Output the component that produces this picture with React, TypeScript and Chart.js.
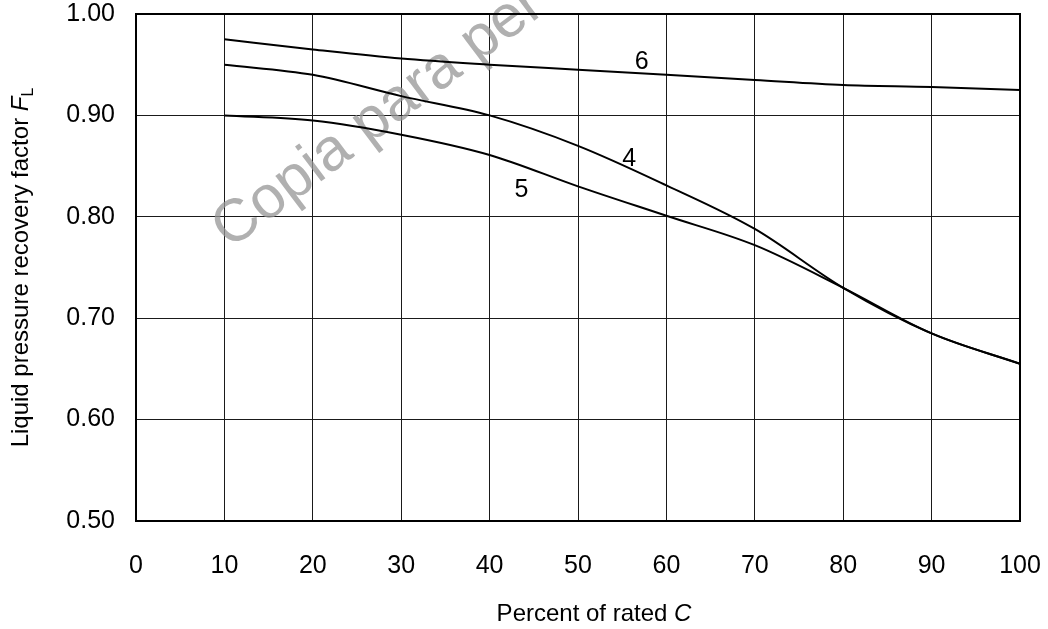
import React, { useEffect, useRef } from 'react';
import { Chart, registerables } from 'chart.js';

Chart.register(...registerables);

// ---- data ----
const percentRated = [10, 20, 30, 40, 50, 60, 70, 80, 90, 100];
const curve6 = [0.975, 0.965, 0.956, 0.95, 0.945, 0.94, 0.935, 0.93, 0.928, 0.925];
const curve4 = [0.95, 0.94, 0.919, 0.9, 0.87, 0.831, 0.788, 0.73, 0.685, 0.655];
const curve5 = [0.9, 0.895, 0.881, 0.861, 0.83, 0.801, 0.772, 0.73, 0.685, 0.655];
const curveNames = ['6', '4', '5'];
const curveLabelX = [57.2, 55.8, 43.6];
const curveLabelY = [0.953, 0.857, 0.826];
const xTickValues = [0, 10, 20, 30, 40, 50, 60, 70, 80, 90, 100];
const yTickValues = [0.5, 0.6, 0.7, 0.8, 0.9, 1.0];
const xTitleText = 'Percent of rated ';
const xTitleItalic = 'C';
const yTitleText = 'Liquid pressure recovery factor ';
const yTitleItalic = 'F';
const yTitleSub = 'L';
const watermarkText = 'Copia para per';

const FONT = '"Liberation Sans", Arial, Helvetica, sans-serif';

const decorPlugin = {
  id: 'decor',
  beforeDatasetsDraw(chart: any) {
    const ctx = chart.ctx;
    ctx.save();
    ctx.translate(230, 250);
    ctx.rotate((-37 * Math.PI) / 180);
    ctx.font = `60px ${FONT}`;
    ctx.fillStyle = 'rgba(150,150,150,0.75)';
    ctx.textAlign = 'left';
    ctx.textBaseline = 'alphabetic';
    ctx.fillText(watermarkText, 0, 0);
    ctx.restore();
  },
  afterDraw(chart: any) {
    const ctx = chart.ctx;
    const area = chart.chartArea;
    const xs = chart.scales.x;
    const ys = chart.scales.y;
    ctx.save();
    // frame
    ctx.strokeStyle = '#000';
    ctx.lineWidth = 2;
    ctx.strokeRect(area.left, area.top, area.right - area.left, area.bottom - area.top);

    // curve labels
    ctx.fillStyle = '#000';
    ctx.font = `25px ${FONT}`;
    ctx.textAlign = 'center';
    ctx.textBaseline = 'middle';
    curveNames.forEach((n, i) => {
      ctx.fillText(n, xs.getPixelForValue(curveLabelX[i]), ys.getPixelForValue(curveLabelY[i]));
    });

    // x title
    ctx.textAlign = 'left';
    ctx.textBaseline = 'alphabetic';
    ctx.font = `24px ${FONT}`;
    const w1 = ctx.measureText(xTitleText).width;
    ctx.font = `italic 24px ${FONT}`;
    const w2 = ctx.measureText(xTitleItalic).width;
    const cx = 594;
    const sx = cx - (w1 + w2) / 2;
    ctx.font = `24px ${FONT}`;
    ctx.fillText(xTitleText, sx, 621);
    ctx.font = `italic 24px ${FONT}`;
    ctx.fillText(xTitleItalic, sx + w1, 621);

    // y title
    ctx.save();
    const cy = (area.top + area.bottom) / 2;
    ctx.translate(28, cy);
    ctx.rotate(-Math.PI / 2);
    ctx.font = `24px ${FONT}`;
    const a1 = ctx.measureText(yTitleText).width;
    ctx.font = `italic 24px ${FONT}`;
    const a2 = ctx.measureText(yTitleItalic).width;
    ctx.font = `16px ${FONT}`;
    const a3 = ctx.measureText(yTitleSub).width;
    const st = -(a1 + a2 + a3) / 2;
    ctx.font = `24px ${FONT}`;
    ctx.fillText(yTitleText, st, 0);
    ctx.font = `italic 24px ${FONT}`;
    ctx.fillText(yTitleItalic, st + a1, 0);
    ctx.font = `16px ${FONT}`;
    ctx.fillText(yTitleSub, st + a1 + a2, 5);
    ctx.restore();

    ctx.restore();
  },
};

export default function App() {
  const canvasRef = useRef<HTMLCanvasElement | null>(null);

  useEffect(() => {
    if (!canvasRef.current) return;
    const mk = (vals: number[]) => percentRated.map((x, i) => ({ x, y: vals[i] }));
    const lineStyle = {
      borderColor: '#000',
      borderWidth: 2,
      pointRadius: 0,
      fill: false,
      cubicInterpolationMode: 'monotone' as const,
    };
    const chart = new Chart(canvasRef.current, {
      type: 'line',
      data: {
        datasets: [
          { label: '6', data: mk(curve6), ...lineStyle },
          { label: '4', data: mk(curve4), ...lineStyle },
          { label: '5', data: mk(curve5), ...lineStyle },
        ],
      },
      options: {
        responsive: false,
        animation: false,
        layout: { padding: { left: 0, top: 14, right: 28, bottom: 0 } },
        plugins: { legend: { display: false }, tooltip: { enabled: false } },
        scales: {
          x: {
            type: 'linear',
            min: 0,
            max: 100,
            afterBuildTicks: (s: any) => {
              s.ticks = xTickValues.map((v) => ({ value: v }));
            },
            ticks: {
              color: '#000',
              padding: 30,
              font: { family: FONT, size: 25 },
              callback: (v: any) => String(v),
            },
            grid: { color: '#1a1a1a', lineWidth: 1, drawTicks: false },
            border: { display: true, color: '#000', width: 2 },
            afterFit: (s: any) => {
              s.height = 108;
              s.paddingLeft = 0;
              s.paddingRight = 0;
            },
          },
          y: {
            type: 'linear',
            min: 0.5,
            max: 1.0,
            afterBuildTicks: (s: any) => {
              s.ticks = yTickValues.map((v) => ({ value: v }));
            },
            ticks: {
              color: '#000',
              padding: 21,
              font: { family: FONT, size: 25 },
              callback: (v: any) => Number(v).toFixed(2),
            },
            grid: { color: '#1a1a1a', lineWidth: 1, drawTicks: false },
            border: { display: true, color: '#000', width: 2 },
            afterFit: (s: any) => {
              s.width = 136;
              s.paddingTop = 0;
              s.paddingBottom = 0;
            },
          },
        },
      },
      plugins: [decorPlugin],
    });
    return () => chart.destroy();
  }, []);

  return (
    <div style={{ position: 'fixed', left: 0, top: 0, width: 1048, height: 629, background: '#fff' }}>
      <canvas ref={canvasRef} width={1048} height={629} style={{ display: 'block' }} />
    </div>
  );
}
